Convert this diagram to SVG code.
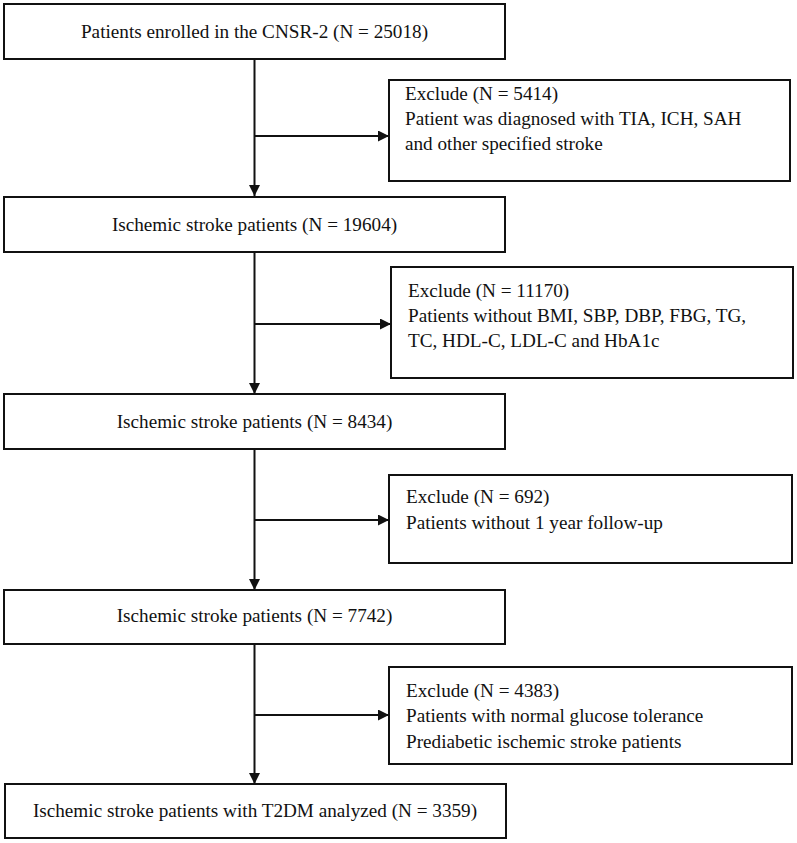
<svg xmlns="http://www.w3.org/2000/svg" width="797" height="843" viewBox="0 0 797 843">
<style>
.box{fill:#fff;stroke:#111;stroke-width:2}
.t{font-family:"Liberation Serif","Times New Roman",serif;font-size:19.2px;fill:#111}
.c{text-anchor:middle}
.ln{stroke:#111;stroke-width:2;fill:none}
</style>
<defs>
<marker id="ah" viewBox="0 0 11 11" refX="11" refY="5.5" markerWidth="11" markerHeight="11" markerUnits="userSpaceOnUse" orient="auto">
<path d="M0,0 L11,5.5 L0,11 Z" fill="#111"/>
</marker>
</defs>
<rect width="797" height="843" fill="#fff"/>
<g id="connectors">
<line class="ln" x1="254.5" y1="59" x2="254.5" y2="196" marker-end="url(#ah)"/>
<line class="ln" x1="254.5" y1="136" x2="389" y2="136" marker-end="url(#ah)"/>
<line class="ln" x1="254.5" y1="252" x2="254.5" y2="394" marker-end="url(#ah)"/>
<line class="ln" x1="254.5" y1="324" x2="391" y2="324" marker-end="url(#ah)"/>
<line class="ln" x1="254.5" y1="449" x2="254.5" y2="590" marker-end="url(#ah)"/>
<line class="ln" x1="254.5" y1="520" x2="389" y2="520" marker-end="url(#ah)"/>
<line class="ln" x1="254.5" y1="644" x2="254.5" y2="784" marker-end="url(#ah)"/>
<line class="ln" x1="254.5" y1="715" x2="389" y2="715" marker-end="url(#ah)"/>
</g>
<g id="n1">
<rect class="box" x="4" y="4" width="501" height="55"/>
<text class="t c" x="254.5" y="37.5">Patients enrolled in the CNSR-2 (N = 25018)</text>
</g>
<g id="e1">
<rect class="box" x="389" y="80" width="401" height="101"/>
<text class="t" x="405" y="100">Exclude (N = 5414)</text>
<text class="t" x="405" y="125">Patient was diagnosed with TIA, ICH, SAH</text>
<text class="t" x="405" y="150">and other specified stroke</text>
</g>
<g id="n2">
<rect class="box" x="4" y="197" width="501" height="55"/>
<text class="t c" x="254.5" y="230.5">Ischemic stroke patients (N = 19604)</text>
</g>
<g id="e2">
<rect class="box" x="391" y="267" width="402" height="111"/>
<text class="t" x="408" y="297">Exclude (N = 11170)</text>
<text class="t" x="408" y="322">Patients without BMI, SBP, DBP, FBG, TG,</text>
<text class="t" x="408" y="347">TC, HDL-C, LDL-C and HbA1c</text>
</g>
<g id="n3">
<rect class="box" x="4" y="394" width="501" height="55"/>
<text class="t c" x="254.5" y="428">Ischemic stroke patients (N = 8434)</text>
</g>
<g id="e3">
<rect class="box" x="389" y="475" width="403" height="88"/>
<text class="t" x="406" y="503">Exclude (N = 692)</text>
<text class="t" x="406" y="529">Patients without 1 year follow-up</text>
</g>
<g id="n4">
<rect class="box" x="4" y="590" width="501" height="54"/>
<text class="t c" x="254.5" y="622">Ischemic stroke patients (N = 7742)</text>
</g>
<g id="e4">
<rect class="box" x="389" y="667" width="403" height="97"/>
<text class="t" x="406" y="697">Exclude (N = 4383)</text>
<text class="t" x="406" y="722">Patients with normal glucose tolerance</text>
<text class="t" x="406" y="748">Prediabetic ischemic stroke patients</text>
</g>
<g id="n5">
<rect class="box" x="5" y="784" width="501" height="54"/>
<text class="t c" x="255" y="817">Ischemic stroke patients with T2DM analyzed (N = 3359)</text>
</g>
</svg>
